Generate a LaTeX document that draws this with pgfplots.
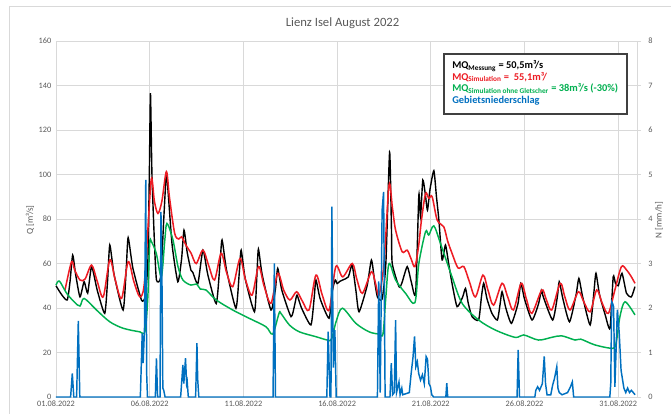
\documentclass[border=0pt]{standalone}
\usepackage{fontspec}
\setmainfont{Carlito}
\usepackage{pgfplots}
\pgfplotsset{compat=1.18}
\definecolor{cred}{RGB}{237,28,36}
\definecolor{cgreen}{RGB}{0,176,80}
\definecolor{cblue}{RGB}{0,112,192}
\definecolor{tickgray}{RGB}{89,89,89}
\definecolor{gridgray}{RGB}{217,217,217}

\begin{document}
\begin{tikzpicture}
\useasboundingbox (-42pt,-12.75pt) rectangle (461.25pt,297.75pt);
\draw[gray!30, line width=0.6pt] (-35.25pt,-12.75pt) -- (-35.25pt,293.25pt) -- (461.25pt,293.25pt);
\begin{axis}[
  at={(0,0)}, anchor=south west,
  scale only axis, width=435.75pt, height=267pt,
  xmin=0, xmax=31, ymin=0, ymax=160,
  xtick={0,5,10,15,20,25,30},
  xticklabels={01.08.2022,06.08.2022,11.08.2022,16.08.2022,21.08.2022,26.08.2022,31.08.2022},
  ytick={0,20,...,160},
  grid=major,
  major grid style={gridgray, line width=0.6pt},
  axis lines*=left,
  axis line style={gridgray, line width=0.6pt},
  xtick style={draw=none}, ytick style={draw=none},
  tick label style={font=\fontsize{6.2}{7}\selectfont, text=tickgray},
  /pgf/number format/assume math mode=true,
  xticklabel style={yshift=1pt},
  clip=false,
]
\addplot[black, line width=1.05pt, smooth, tension=0.35] coordinates {
(0.0,50) (0.3,46) (0.6,43.6) (0.75,52) (0.89,63.8) (1.05,55) (1.28,45) (1.5,51.8) (1.69,46.7) (1.9,58.6)
(2.2,48) (2.6,37.6) (2.75,52) (2.87,68.3) (3.1,55) (3.58,39.1) (3.75,58) (3.85,71.6) (4.1,58) (4.56,43.6)
(4.75,45) (4.9,60) (4.98,100) (5.04,136.5) (5.12,100) (5.25,70) (5.36,52.6) (5.59,54) (5.75,80) (5.89,100.5)
(6.0,90) (6.2,68) (6.5,51.8) (6.7,62) (6.83,75) (7.0,65) (7.2,57) (7.3,56) (7.57,51) (7.84,66)
(8.1,55) (8.55,42) (8.75,60) (8.86,70.6) (9.1,57) (9.6,39.9) (9.78,56) (9.88,66) (10.1,53) (10.59,38.3)
(10.72,55) (10.8,66.5) (11.0,55) (11.47,39.1) (11.7,48) (11.83,57.8) (12.05,48) (12.54,36.1) (12.75,42) (12.86,45.8)
(13.1,40) (13.6,32.4) (13.78,45) (13.87,52.6) (14.1,44) (14.57,35.4) (14.75,48) (14.9,52.6) (15.0,51) (15.15,52)
(15.3,52.6) (15.6,54) (15.8,59.3) (16.0,48) (16.17,38.3) (16.6,50) (16.83,61.6) (17.0,52) (17.15,45) (17.4,44)
(17.6,60) (17.8,110) (17.9,75) (17.94,60) (18.3,49.6) (18.45,51.1) (18.74,58.6) (18.95,52) (19.19,46.6) (19.36,90.8)
(19.45,81) (19.57,97.5) (19.7,91.5) (19.82,84) (19.95,93) (20.16,101.7) (20.3,90) (20.43,79.5) (20.6,61.6) (20.78,68.3)
(20.95,60) (21.13,51.1) (21.4,40.6) (21.7,45) (21.85,48.8) (22.0,42) (22.2,36.1) (22.55,34.6) (22.7,45) (22.82,51.1)
(23.0,44) (23.26,37.6) (23.55,34.6) (23.7,42) (23.8,47.3) (24.0,40) (24.3,33.1) (24.65,42) (24.8,51.1) (25.0,44)
(25.4,34.6) (25.75,42) (25.9,48.1) (26.0,45) (26.5,34.6) (26.75,45) (26.85,51.8) (27.05,44) (27.4,33.8) (27.75,46)
(27.9,53.3) (28.1,45) (28.5,32.4) (28.7,47) (28.81,55.6) (29.0,46) (29.3,37) (29.56,30.9) (29.73,54) (29.85,51.1)
(30.0,50) (30.2,55.6) (30.44,46.6) (30.7,45) (30.89,49.6)
};
\addplot[cred, line width=1.15pt, smooth, tension=0.5] coordinates {
(0.48,48) (0.83,60.8) (1.0,57) (1.28,52.6) (1.55,53) (1.9,59.3) (2.2,52) (2.52,45) (2.87,61.6) (3.15,53)
(3.5,44.3) (3.85,60.8) (4.15,52) (4.47,45) (4.7,50) (4.9,75) (5.09,98.3) (5.25,88) (5.44,82.5) (5.65,88)
(5.89,101.3) (6.05,90) (6.33,73.6) (6.55,71) (6.7,72) (6.95,68) (7.21,64.6) (7.48,60) (7.84,66) (8.15,59)
(8.46,52.6) (8.81,64.6) (9.1,56) (9.43,49.6) (9.82,62.3) (10.1,53) (10.46,45.8) (10.81,58.6) (11.1,50) (11.47,42.1)
(11.83,55.6) (12.15,48) (12.48,43.6) (12.84,47.3) (13.15,43) (13.5,39.1) (13.87,54.8) (14.2,46) (14.57,39.1) (14.93,58.6)
(15.3,54) (15.81,60) (16.05,53) (16.35,46.6) (16.83,56.3) (17.05,51) (17.23,45.8) (17.5,60) (17.77,95.3) (17.95,85)
(18.12,75) (18.47,65.3) (18.74,66) (18.95,62) (19.15,58.6) (19.35,68) (19.5,79.5) (19.72,91.5) (19.89,89.3) (20.07,90)
(20.34,79.5) (20.69,76.5) (20.9,70) (21.13,64.6) (21.45,58) (21.76,58.6) (22.05,52) (22.38,45) (22.78,54.8) (23.05,48)
(23.35,41.3) (23.8,51.1) (24.1,45) (24.41,39.1) (24.82,51.1) (25.1,44) (25.39,37.6) (25.92,48.1) (26.15,44) (26.45,39.1)
(26.9,51.1) (27.15,45) (27.43,39.1) (27.87,47.3) (28.15,43) (28.5,38.3) (28.85,48.1) (29.15,42) (29.47,37.6) (29.82,48.1)
(30.17,58.6) (30.45,57) (30.7,54) (30.89,51.1)
};
\addplot[cgreen, line width=1.1pt, smooth, tension=0.5] coordinates {
(0.0,50.3) (0.18,52.1) (0.57,46.6) (1.0,42.5) (1.28,40.9) (1.5,44.3) (2.16,39.1) (2.87,33.8) (3.58,30.9) (4.47,29.3)
(4.75,29.5) (4.9,45) (5.0,69.1) (5.09,69.8) (5.35,64.6) (5.62,54) (5.8,70) (5.92,78) (6.24,70.6) (6.51,58.6)
(6.77,52.6) (7.2,50.3) (7.5,50.8) (7.7,48.5) (8.0,48.1) (8.55,43.6) (9.43,39.1) (10.3,35.4) (11.2,31.6) (11.56,28.3)
(11.9,37.6) (12.0,37.6) (12.45,32.4) (12.98,29.3) (13.87,27.1) (14.48,25.6) (14.7,26) (14.95,34) (15.28,39.9) (16.0,33.1)
(16.7,29.3) (17.23,28.3) (17.45,28.5) (17.6,45) (17.77,60) (18.12,52.6) (18.65,46.6) (19.15,42.4) (19.36,60) (19.72,74.3)
(19.89,72.8) (20.16,76.9) (20.51,69.1) (21.13,54) (21.67,42.1) (22.55,34.6) (23.44,30.1) (24.5,26.8) (24.95,27.9) (25.74,25.6)
(26.45,26.8) (26.98,27.5) (27.7,25.6) (28.0,26) (28.76,23.4) (29.73,21.9) (29.9,25) (30.09,36.1) (30.36,42.8) (30.89,36.9)
};
\end{axis}
\begin{axis}[
  at={(0,0)}, anchor=south west,
  scale only axis, width=435.75pt, height=267pt,
  xmin=0, xmax=31, ymin=0, ymax=8,
  axis x line=none,
  axis y line*=right,
  ytick={0,1,...,8},
  axis line style={gridgray, line width=0.6pt},
  ytick style={gridgray, line width=0.6pt},
  tick align=outside, major tick length=3pt,
  tick label style={font=\fontsize{6.2}{7}\selectfont, text=tickgray},
  yticklabel style={xshift=2pt},
  /pgf/number format/assume math mode=true,
]
\addplot[cblue, line width=1.1pt] coordinates {
(0,0) (0.78,0) (0.87,0.53) (0.95,0) (1.1,0) (1.19,1.71) (1.27,0) (4.5,0) (4.6,1.43) (4.65,0.76)
(4.72,1.5) (4.79,4.88) (4.84,0.5) (4.88,0) (5.3,0) (5.36,0.87) (5.42,0) (5.55,0) (5.6,4.16) (5.65,2.85)
(5.7,0.2) (5.75,0.15) (5.82,0) (6.65,0) (6.77,0.72) (6.82,0.3) (6.91,0.87) (6.97,0.3) (7.0,0.35) (7.06,0)
(7.45,0) (7.52,1.21) (7.56,0.4) (7.62,0) (11.58,0) (11.65,3.0) (11.71,0) (14.45,0) (14.52,1.47) (14.62,0)
(14.67,0) (14.72,4.28) (14.8,0.66) (14.88,1.5) (14.95,0) (17.15,0) (17.22,2.6) (17.3,0.1) (17.4,4.2) (17.48,4.61)
(17.56,0) (17.82,0) (17.89,0.76) (17.96,0.05) (18.05,0.1) (18.12,1.73) (18.17,0.1) (18.3,0.34) (18.36,0.05) (18.45,0.2)
(18.5,0.05) (18.85,0.1) (18.95,0.53) (19.05,0.9) (19.13,1.36) (19.2,0.68) (19.28,0.79) (19.35,0.53) (19.45,0.38) (19.55,0.5)
(19.65,0.3) (19.75,0.91) (19.82,0.85) (19.9,0.3) (19.98,0.23) (20.05,0.05) (20.15,0) (20.8,0) (20.85,0.31) (20.9,0)
(24.6,0) (24.66,1.06) (24.73,0) (25.55,0) (25.6,0.15) (25.7,0.23) (25.8,0.15) (25.95,0.3) (26.05,0.91) (26.12,0.3)
(26.2,0.05) (26.4,0.05) (26.5,0.27) (26.6,0.42) (26.72,0.68) (26.78,0.2) (26.85,0.1) (27.0,0.05) (27.3,0.1) (27.45,0.23)
(27.55,0.34) (27.62,0) (29.55,0) (29.6,0.31) (29.65,2.14) (29.7,2.1) (29.75,2.03) (29.82,0.23) (29.88,1.0) (29.95,1.96)
(30.05,1.45) (30.15,0.6) (30.3,0.2) (30.4,0.1) (30.5,0.2) (30.6,0.1) (30.7,0.15) (30.8,0.1) (30.9,0.05)
};
\end{axis}
% title and axis labels
\node[font=\fontsize{9.5}{11}\selectfont, text=tickgray] at (214.9pt,280.5pt) {Lienz Isel August 2022};
\node[rotate=90, font=\fontsize{6.8}{8}\selectfont, text=tickgray] at (-19.5pt,132.75pt) {Q [m³/s]};
\node[rotate=90, font=\fontsize{6.8}{8}\selectfont, text=tickgray] at (452.25pt,132.75pt) {N [mm/h]};
% legend box
\draw[fill=white, draw=black!75, line width=0.8pt] (291pt,212.25pt) rectangle (428.25pt,257.25pt);
\node[anchor=north west, inner sep=0pt, align=left, font=\bfseries\fontsize{7.8}{8.6}\selectfont] at (297pt,252.5pt) {%
MQ\textsubscript{Messung} = 50,5m³/s\\
\textcolor{cred}{MQ\textsubscript{Simulation} =\ \ 55,1m³/}\\
\textcolor{cgreen}{MQ\textsubscript{Simulation ohne Gletscher} = 38m³/s (-30\%)}\\
\textcolor{cblue}{Gebietsniederschlag}};
\end{tikzpicture}
\end{document}
